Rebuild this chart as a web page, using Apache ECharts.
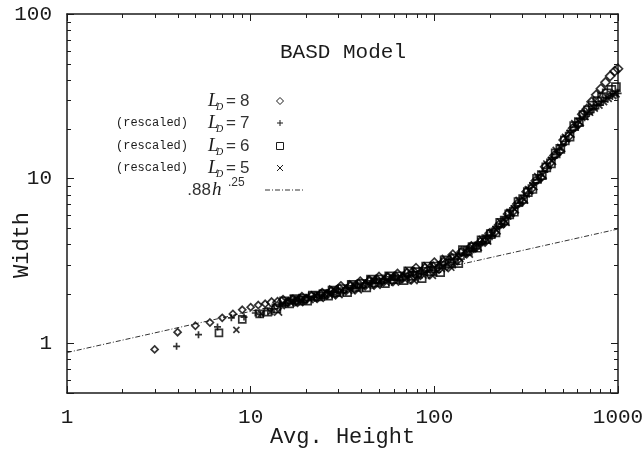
<!DOCTYPE html>
<html><head><meta charset="utf-8">
<script src="https://cdn.jsdelivr.net/npm/echarts@6/dist/echarts.min.js"></script>
<style>html,body{margin:0;padding:0;background:#fff}#c{width:644px;height:453px}</style>
</head><body><div id="c"></div>
<script>
// ---- data ----
const xTickLabels = ['1', '10', '100', '1000'];
const yTickLabels = ['1', '10', '100'];

// L_D = 8 (diamonds)
const hL8 = [3,4,5,6,7,8,9,10,11,12,13,14,
  15,16,17,18,19,20,21.5,23,24.5,26,27.5,29,31,33,35,37,39.5,42,44.5,47,50,53,56,59.5,63,67,71,75,79.5,84,89,94.5,
  100,106,112,119,126,133,141,150,159,168,178,189,200,212,225,238,252,267,283,300,318,337,357,379,401,425,451,478,506,537,569,603,639,677,718,761,807,855,906,960,1000];
const wL8 = [0.92,1.17,1.28,1.34,1.43,1.51,1.60,1.66,1.71,1.74,1.77,1.78,
  1.83,1.78,1.84,1.79,1.91,1.85,1.93,1.89,2.02,1.98,2.07,1.99,2.22,2.10,2.23,2.13,2.37,2.25,2.40,2.28,2.53,2.38,2.51,2.39,2.64,2.49,2.67,2.45,2.86,2.61,2.86,2.63,
  3.09,2.84,3.12,2.91,3.46,3.21,3.60,3.53,3.88,3.84,4.12,4.16,4.66,4.73,5.24,5.36,6.11,6.31,7.02,7.26,8.33,8.68,9.72,10.13,11.8,12.42,13.84,14.61,17.18,18.04,20.25,21.23,24.63,26.5,29.3,32.3,35.2,38.5,42.0,45.0,46.5];

// L_D = 7 rescaled (plus)
const hL7 = [3.95,5.2,6.6,7.85,9.2,10.6,11.3,12.4,13.4,14.5,
  15.5,16.5,17.5,18.5,19.6,20.7,22.2,23.7,25.2,26.8,28.3,29.9,31.9,34,36,38.1,40.7,43.3,45.8,48.4,51.5,54.6,57.7,61.3,64.9,69,73.1,77.3,81.9,86.5,91.7,97.3,
  103,109,115,123,130,137,145,155,164,173,183,195,206,218,232,245,260,275,291,309,328,347,368,390,413,438,465,492,521,553,586,621,658,697,739,784,831,881,933,989];
const wL7 = [0.96,1.13,1.26,1.43,1.445,1.53,1.50,1.58,1.62,1.68,
  1.75,1.85,1.81,1.87,1.82,1.93,1.90,1.98,1.93,2.06,2.04,2.13,2.05,2.24,2.17,2.29,2.19,2.40,2.33,2.45,2.34,2.54,2.44,2.56,2.43,2.65,2.54,2.73,2.51,2.88,2.71,2.93,
  2.71,3.13,2.96,3.25,3.03,3.54,3.42,3.79,3.76,4.11,4.13,4.48,4.51,5.12,5.31,5.82,5.98,6.83,7.11,7.88,8.15,9.39,9.84,11.0,11.55,13.44,14.02,15.87,16.82,19.53,20.51,23.07,23.8,25.2,26.6,28.0,29.4,30.8,32.0,33.0];

// L_D = 6 rescaled (squares)
const hL6 = [6.72,9.0,11.2,12.4,13.8,
  15.2,16.2,17.3,18.3,19.3,20.3,21.8,23.3,24.9,26.4,27.9,29.4,31.5,33.5,35.5,37.6,40.1,42.6,45.2,47.7,50.8,53.8,56.8,60.4,63.9,68,72.1,76.1,80.7,85.3,90.3,95.9,
  101.5,107.6,113.7,120.8,127.9,135,143.1,152.3,161.4,170.5,180.7,191.8,203,215.2,228.4,241.6,255.8,271,287.2,304.5,322.8,342,362.4,384.7,407,431.4,457.8,485.2,513.6,545,577.5,612,648.6,687.2,728.8,772.4,819,867.8,919.6,974.4];
const wL6 = [1.16,1.40,1.51,1.55,1.63,
  1.80,1.75,1.86,1.82,1.87,1.82,1.95,1.93,1.99,1.95,2.09,2.05,2.14,2.05,2.27,2.20,2.30,2.19,2.44,2.35,2.45,2.32,2.55,2.46,2.55,2.42,2.74,2.57,2.71,2.49,2.93,2.75,
  2.93,2.71,3.19,3.05,3.28,3.07,3.68,3.64,3.84,3.81,4.22,4.30,4.61,4.72,5.39,5.56,6.07,6.30,7.22,7.53,8.28,8.66,9.99,10.51,11.73,12.40,14.23,15.16,17.08,18.01,20.83,22.04,24.3,26.0,27.8,29.6,31.3,33.0,34.6,36.0];

// L_D = 5 rescaled (crosses)
const hL5 = [8.36,11.4,12.8,14.1,
  14.6,15.5,16.5,17.5,18.4,19.4,20.9,22.3,23.8,25.2,26.7,28.1,30.1,32,34,35.9,38.3,40.7,43.2,45.6,48.5,51.4,54.3,57.7,61.1,65,68.9,72.8,77.1,81.5,86.3,91.7,
  97,102.8,108.6,115.4,122.2,129,136.8,145.5,154.2,163,172.7,183.3,194,205.6,218.3,230.9,244.4,259,274.5,291,308.5,326.9,346.3,367.6,389,412.3,437.5,463.7,490.8,520.9,551.9,584.9,619.8,656.7,696.5,738.2,782.8,829.4,878.8,931.2,970];
const wL5 = [1.21,1.51,1.55,1.56,
  1.71,1.80,1.77,1.86,1.78,1.87,1.86,1.96,1.89,2.00,1.99,2.13,1.99,2.16,2.11,2.28,2.13,2.31,2.26,2.44,2.27,2.44,2.37,2.55,2.37,2.55,2.45,2.75,2.42,2.73,2.62,2.95,
  2.61,2.97,2.86,3.26,2.92,3.36,3.30,3.60,3.51,3.81,3.86,4.25,4.21,4.65,4.86,5.42,5.47,6.20,6.51,7.34,7.46,8.52,9.01,10.24,10.56,12.20,12.83,14.77,15.38,17.72,18.77,21.47,22.05,24.0,25.5,27.0,28.2,29.6,31.0,32.2,33.0];

// .88 h^.25 reference line (endpoints)
const fitH = [1, 1000];
const fitW = [0.88, 4.95];

// minor tick positions
const minorX = [2,3,4,5,6,7,8,9,20,30,40,50,60,70,80,90,200,300,400,500,600,700,800,900];
const minorY = [0.6,0.7,0.8,0.9,2,3,4,5,6,7,8,9,20,30,40,50,60,70,80,90];

// ---- chart ----
const pair = (h, w) => h.map((v, i) => [v, w[i]]);
const INK = '#1b1b1b';
const MONO = 'Liberation Mono';
const SERIF = 'Liberation Serif';
const SANS = 'Liberation Sans';

const fmt = list => v => {
  const s = String(Math.round(v * 1000) / 1000);
  return list.includes(s) ? s : '';
};
const axLine = {show: true, onZero: false, lineStyle: {color: INK, width: 1.5}};
const axTick = {show: true, inside: true, length: 7, lineStyle: {color: INK, width: 1}};

const hollow = {color: 'rgba(0,0,0,0)', borderColor: '#000', borderWidth: 1.7};
const PLUS = 'path://M0,-1L0,1M-1,0L1,0';
const CROSS = 'path://M-1,-1L1,1M-1,1L1,-1';
// glyphs in the dense band are drawn slightly larger than the isolated early ones
const sz = (small, big) => v => (v[0] < 13 ? small : big);

const rows = [101, 123, 146, 168, 190];
const g = [];
const addLD = (y, digit, rescaled) => {
  if (rescaled) g.push({type: 'text', x: 188, y: y, style: {text: '(rescaled)', fontFamily: MONO, fontSize: 12, fill: INK, align: 'right', verticalAlign: 'middle'}});
  g.push({type: 'text', x: 208, y: y, style: {text: 'L', fontFamily: SERIF, fontStyle: 'italic', fontSize: 19, fill: INK, align: 'left', verticalAlign: 'middle'}});
  g.push({type: 'text', x: 216, y: y + 6, style: {text: 'D', fontFamily: SERIF, fontStyle: 'italic', fontSize: 10, fill: INK, align: 'left', verticalAlign: 'middle'}});
  g.push({type: 'text', x: 226, y: y, style: {text: '=', fontFamily: SANS, fontSize: 17, fill: '#333', align: 'left', verticalAlign: 'middle'}});
  g.push({type: 'text', x: 240, y: y, style: {text: digit, fontFamily: SANS, fontSize: 17, fill: '#333', align: 'left', verticalAlign: 'middle'}});
};
addLD(rows[0], '8', false);
addLD(rows[1], '7', true);
addLD(rows[2], '6', true);
addLD(rows[3], '5', true);
g.push({type: 'text', x: 211, y: rows[4], style: {text: '.88', fontFamily: SANS, fontSize: 17, fill: '#333', align: 'right', verticalAlign: 'middle'}});
g.push({type: 'text', x: 212, y: rows[4], style: {text: 'h', fontFamily: SERIF, fontStyle: 'italic', fontSize: 19, fill: INK, align: 'left', verticalAlign: 'middle'}});
g.push({type: 'text', x: 228, y: rows[4] - 7, style: {text: '.25', fontFamily: SANS, fontSize: 12, fill: '#333', align: 'left', verticalAlign: 'middle'}});
// legend glyphs
const sx = 280;
g.push({type: 'polygon', shape: {points: [[sx, rows[0]-3.5],[sx+3.5, rows[0]],[sx, rows[0]+3.5],[sx-3.5, rows[0]]]}, style: {fill: 'none', stroke: INK, lineWidth: 1}});
g.push({type: 'polyline', shape: {points: [[sx, rows[1]-3],[sx, rows[1]+3]]}, style: {stroke: INK, lineWidth: 1}});
g.push({type: 'polyline', shape: {points: [[sx-3, rows[1]],[sx+3, rows[1]]]}, style: {stroke: INK, lineWidth: 1}});
g.push({type: 'rect', shape: {x: sx-3.5, y: rows[2]-3.5, width: 7, height: 7}, style: {fill: 'none', stroke: INK, lineWidth: 1}});
g.push({type: 'polyline', shape: {points: [[sx-3, rows[3]-3],[sx+3, rows[3]+3]]}, style: {stroke: INK, lineWidth: 1}});
g.push({type: 'polyline', shape: {points: [[sx-3, rows[3]+3],[sx+3, rows[3]-3]]}, style: {stroke: INK, lineWidth: 1}});
g.push({type: 'polyline', shape: {points: [[265, rows[4]],[305, rows[4]]]}, style: {stroke: '#333', lineWidth: 1, lineDash: [5, 2, 1, 2]}});
// title and y-axis title
g.push({type: 'text', x: 343, y: 52, style: {text: 'BASD Model', fontFamily: MONO, fontSize: 21, fill: INK, align: 'center', verticalAlign: 'middle'}});
g.push({type: 'text', x: 22, y: 245, rotation: Math.PI / 2, style: {text: 'Width', fontFamily: MONO, fontSize: 22, fill: INK, align: 'center', verticalAlign: 'middle'}});

const chart = echarts.init(document.getElementById('c'), null, {renderer: 'canvas'});
chart.setOption({
  animation: false,
  backgroundColor: '#fff',
  grid: {left: 67, right: 26, top: 14, bottom: 60, show: false, containLabel: false, outerBoundsMode: 'none'},
  xAxis: [
    {type: 'log', logBase: 10, min: 1, max: 1000, position: 'bottom',
     name: 'Avg. Height', nameLocation: 'middle', nameGap: 33, nameMoveOverlap: false,
     nameTextStyle: {fontFamily: MONO, fontSize: 22, color: INK},
     axisLine: axLine, axisTick: axTick,
     axisLabel: {fontFamily: MONO, fontSize: 21, color: INK, margin: 14, formatter: fmt(xTickLabels)},
     splitLine: {show: false}, minorTick: {show: false}},
    {type: 'log', logBase: 10, min: 1, max: 1000, position: 'top',
     axisLine: axLine, axisTick: axTick, axisLabel: {show: false}, splitLine: {show: false}}
  ],
  yAxis: [
    {type: 'log', logBase: 10, min: 0.5, max: 100, position: 'left',
     axisLine: axLine, axisTick: axTick,
     axisLabel: {fontFamily: MONO, fontSize: 21, color: INK, margin: 15, formatter: fmt(yTickLabels)},
     splitLine: {show: false}},
    {type: 'log', logBase: 10, min: 0.5, max: 100, position: 'right',
     axisLine: axLine, axisTick: axTick, axisLabel: {show: false}, splitLine: {show: false}}
  ],
  graphic: g,
  series: [
    {type: 'line', name: '.88h^.25', data: pair(fitH, fitW), symbol: 'none',
     lineStyle: {color: '#333', width: 1, type: [5, 2, 1, 2]}, z: 1},
    {type: 'scatter', name: 'L_D=8', data: pair(hL8, wL8), symbol: 'diamond', symbolSize: sz(7, 9), itemStyle: hollow, z: 3},
    {type: 'scatter', name: 'L_D=7', data: pair(hL7, wL7), symbol: PLUS, symbolSize: sz(7, 9), itemStyle: hollow, z: 3},
    {type: 'scatter', name: 'L_D=6', data: pair(hL6, wL6), symbol: 'rect', symbolSize: sz(7, 8), itemStyle: hollow, z: 3},
    {type: 'scatter', name: 'L_D=5', data: pair(hL5, wL5), symbol: CROSS, symbolSize: sz(6, 8), itemStyle: hollow, z: 3},
    {type: 'custom', name: 'minor ticks', silent: true, clip: false, z: 5,
     dimensions: ['x', 'y', 'k'], encode: {x: 0, y: 1},
     data: minorX.map(v => [v, 1, 0]).concat(minorY.map(v => [1, v, 1])),
     renderItem: (params, api) => {
       const cs = params.coordSys;
       const st = {stroke: INK, lineWidth: 1};
       if (api.value(2) === 0) {
         const x = Math.round(api.coord([api.value(0), 1])[0]) + 0.5;
         return {type: 'group', children: [
           {type: 'line', shape: {x1: x, y1: cs.y + cs.height, x2: x, y2: cs.y + cs.height - 4}, style: st},
           {type: 'line', shape: {x1: x, y1: cs.y, x2: x, y2: cs.y + 4}, style: st}
         ]};
       }
       const y = Math.round(api.coord([1, api.value(1)])[1]) + 0.5;
       return {type: 'group', children: [
         {type: 'line', shape: {x1: cs.x, y1: y, x2: cs.x + 4, y2: y}, style: st},
         {type: 'line', shape: {x1: cs.x + cs.width, y1: y, x2: cs.x + cs.width - 4, y2: y}, style: st}
       ]};
     }}
  ]
});
</script>
</body></html>
